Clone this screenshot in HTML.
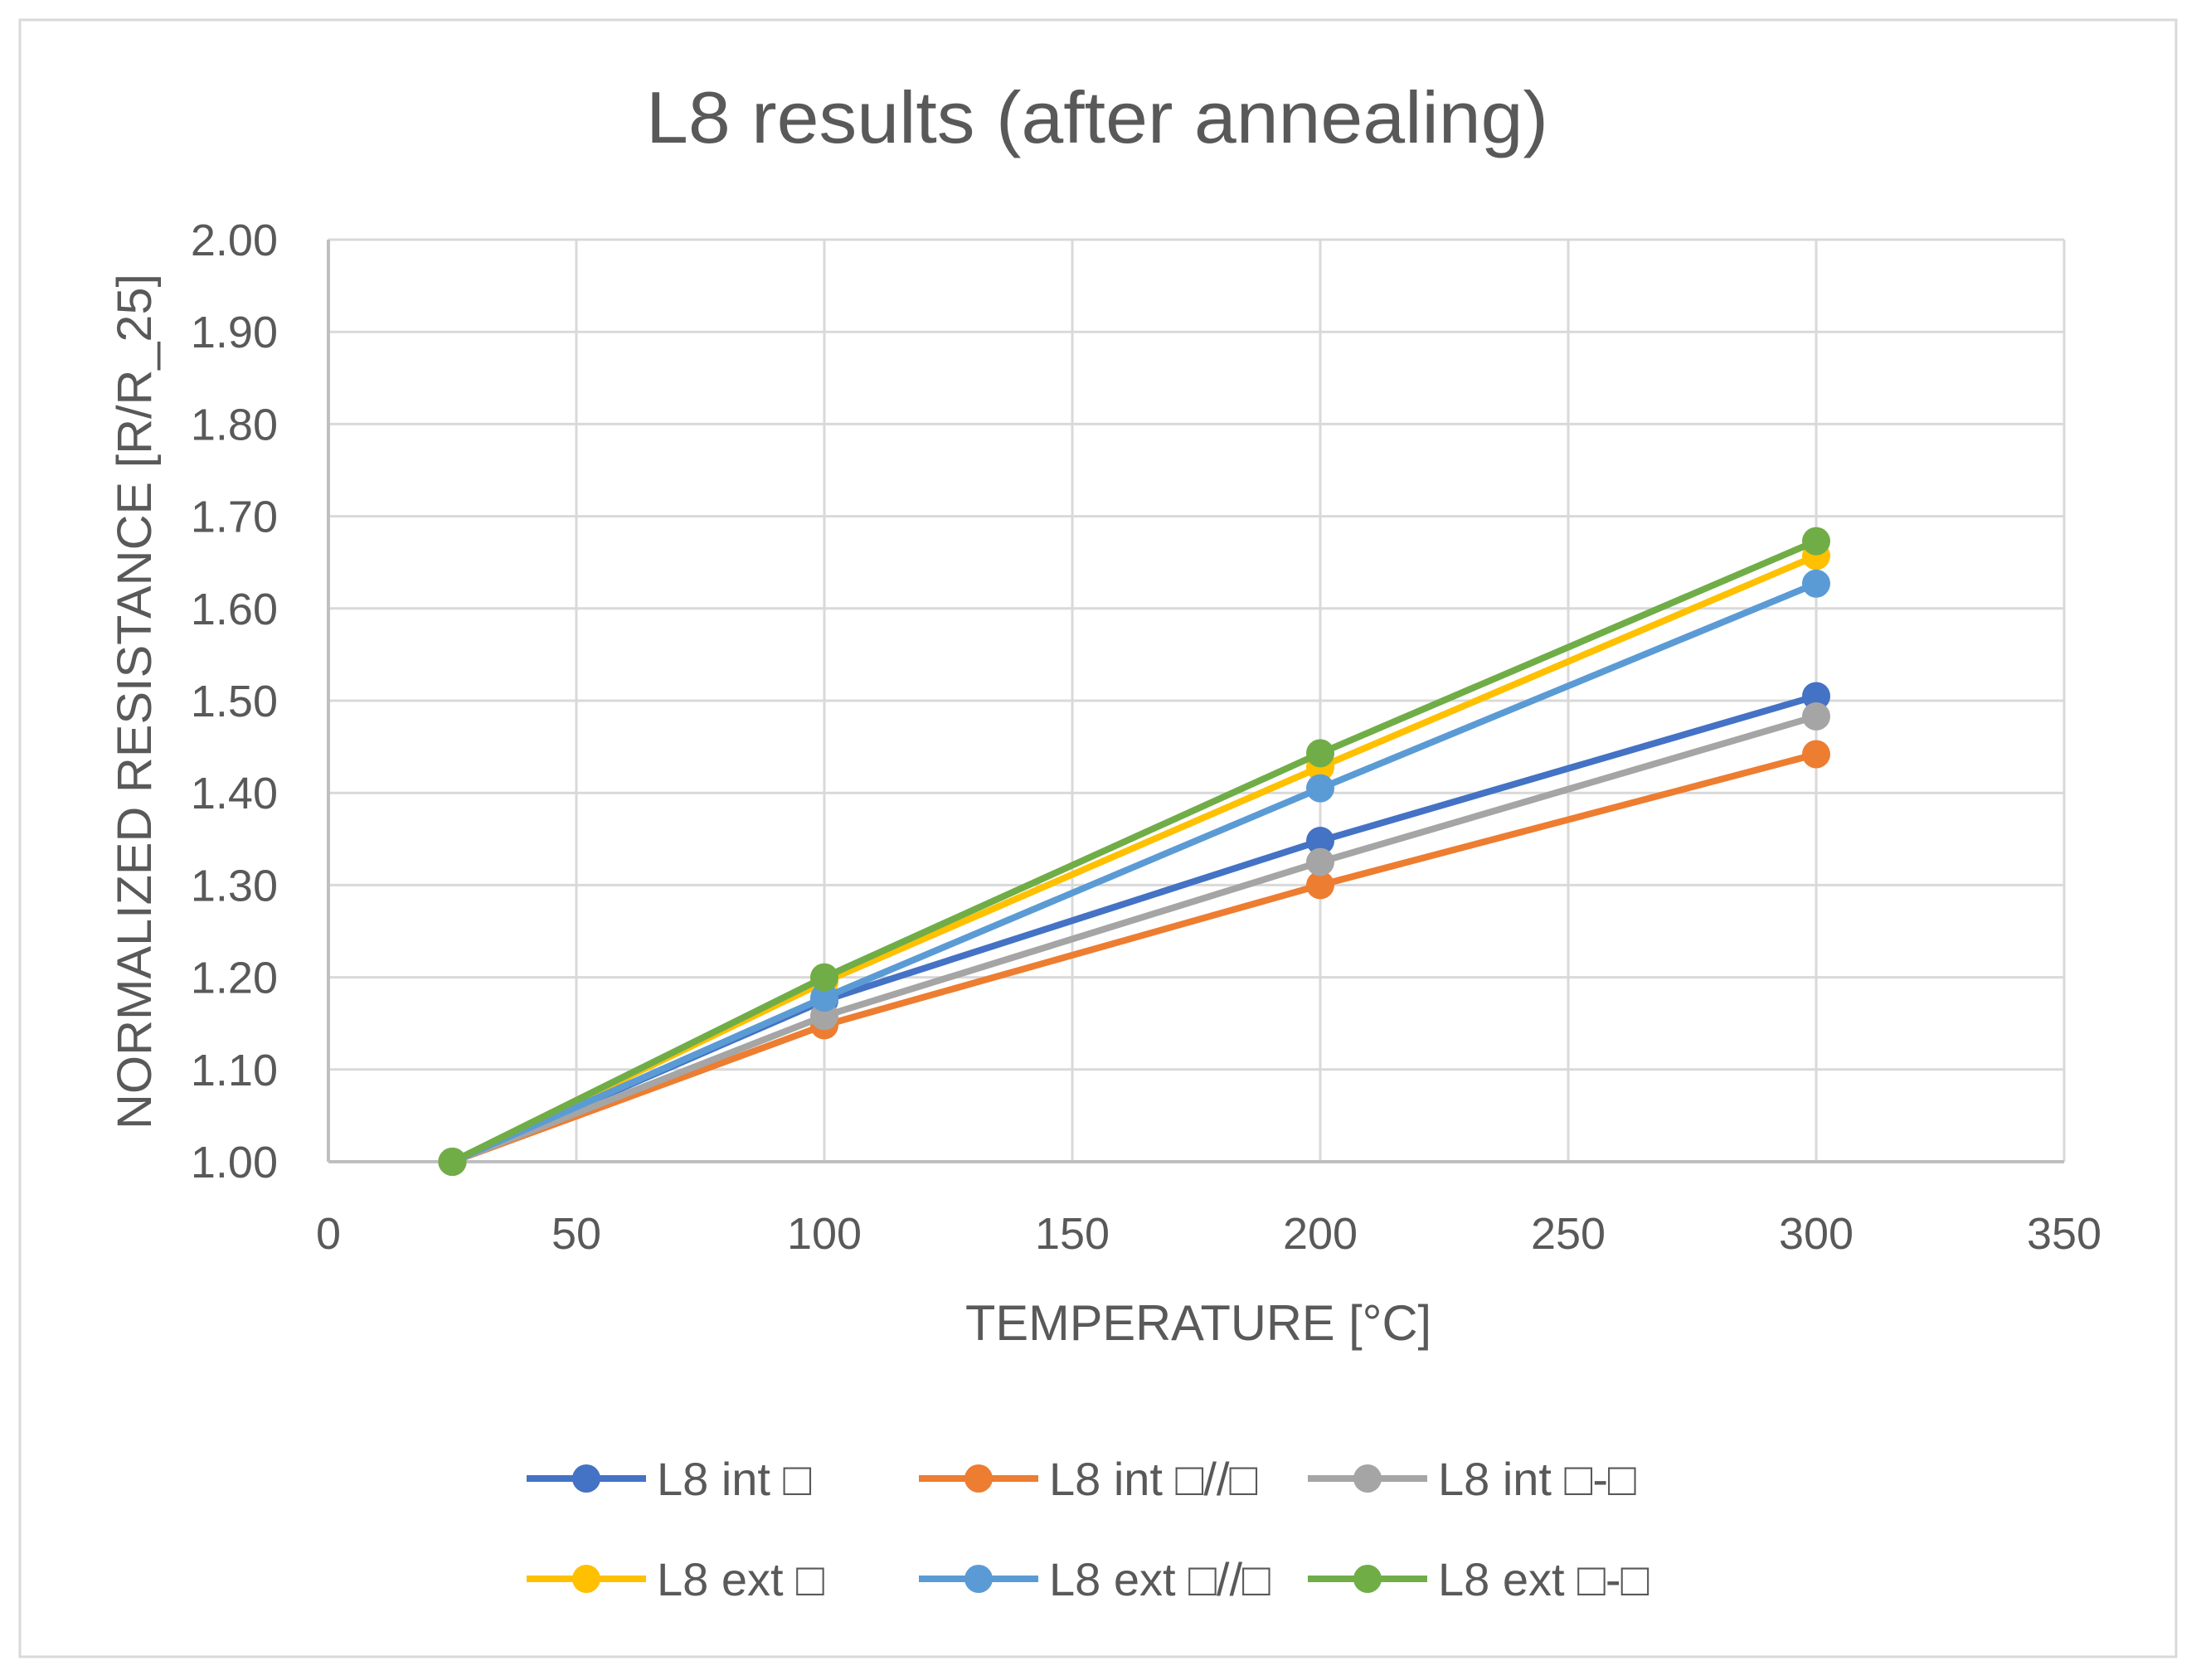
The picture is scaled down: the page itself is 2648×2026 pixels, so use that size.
<!DOCTYPE html>
<html><head><meta charset="utf-8"><style>
html,body{margin:0;padding:0;background:#fff}
svg{display:block;font-family:"Liberation Sans","DejaVu Sans",sans-serif}
</style></head><body>
<svg id="chart" width="2648" height="2026" viewBox="0 0 2648 2026" xmlns="http://www.w3.org/2000/svg">
<rect x="24" y="24" width="2600" height="1974" fill="#fff" stroke="#d9d9d9" stroke-width="3"/>
<text x="1323" y="172" font-size="88" fill="#595959" text-anchor="middle" textLength="1088" lengthAdjust="spacingAndGlyphs">L8 results (after annealing)</text>
<g id="grid"></g><g id="axes"></g><g id="series"></g><g id="legend"></g>
<text transform="translate(182,846) rotate(-90)" font-size="58" fill="#595959" text-anchor="middle" textLength="1032" lengthAdjust="spacingAndGlyphs">NORMALIZED RESISTANCE [R/R_25]</text>
<text x="1445" y="1616" font-size="60" fill="#595959" text-anchor="middle" textLength="562" lengthAdjust="spacingAndGlyphs">TEMPERATURE [°C]</text>
</svg>
<script>
const temps = [25, 100, 200, 300];
const seriesNames = ["L8 int □", "L8 int □//□", "L8 int □-□", "L8 ext □", "L8 ext □//□", "L8 ext □-□"];
const intSquare = [1.00, 1.175, 1.348, 1.505];
const intParallel = [1.00, 1.148, 1.300, 1.442];
const intPerp = [1.00, 1.158, 1.325, 1.483];
const extSquare = [1.00, 1.195, 1.428, 1.657];
const extParallel = [1.00, 1.178, 1.405, 1.627];
const extPerp = [1.00, 1.200, 1.443, 1.673];
const xTicks = [0, 50, 100, 150, 200, 250, 300, 350];
const yTicks = [1.00, 1.10, 1.20, 1.30, 1.40, 1.50, 1.60, 1.70, 1.80, 1.90, 2.00];
const colors = ["#4472c4", "#ed7d31", "#a5a5a5", "#ffc000", "#5b9bd5", "#70ad47"];
const allSeries = [intSquare, intParallel, intPerp, extSquare, extParallel, extPerp];

const L = 396, R = 2489, T = 289, B = 1401;
const xs = v => L + (v - 0) / 350 * (R - L);
const ys = v => B - (v - 1) / 1 * (B - T);
const NS = "http://www.w3.org/2000/svg";
function mk(tag, attrs, parent, txt) {
  const e = document.createElementNS(NS, tag);
  for (const k in attrs) e.setAttribute(k, attrs[k]);
  if (txt !== undefined) e.textContent = txt;
  parent.appendChild(e); return e;
}
const grid = document.getElementById("grid"), axes = document.getElementById("axes");
yTicks.forEach(t => {
  const y = ys(t);
  const l = mk("line", {x1: L, x2: R, y1: y, y2: y, stroke: "#d9d9d9", "stroke-width": 3}, grid);
  
  
  const tx = mk("text", {x: 335, y: y + 19, "font-size": 54, fill: "#595959", "text-anchor": "end"}, axes, t.toFixed(2));
  
  
});
xTicks.forEach(t => {
  const x = xs(t);
  const l = mk("line", {x1: x, x2: x, y1: T, y2: B, stroke: "#d9d9d9", "stroke-width": 3}, grid);
  
  
  const tx = mk("text", {x: x, y: 1506, "font-size": 54, fill: "#595959", "text-anchor": "middle"}, axes, String(t));
  
  
});
const ax1 = mk("line", {x1: L, x2: R, y1: B, y2: B, stroke: "#bfbfbf", "stroke-width": 4}, axes);


const ax2 = mk("line", {x1: L, x2: L, y1: T, y2: B, stroke: "#bfbfbf", "stroke-width": 4}, axes);



const sg = document.getElementById("series");
allSeries.forEach((vals, i) => {
  const g = mk("g", {}, sg);
  
  
  const pts = vals.map((v, j) => xs(temps[j]) + "," + ys(v)).join(" ");
  const pl = mk("polyline", {points: pts, fill: "none", stroke: colors[i], "stroke-width": 8, "stroke-linejoin": "round"}, g);
  
  
  vals.forEach((v, j) => {
    const c = mk("circle", {cx: xs(temps[j]), cy: ys(v), r: 17, fill: colors[i]}, g);
    
    
  });
});

const lg = document.getElementById("legend");
const colX = [635, 1108, 1577], rowY = [1783, 1904];
seriesNames.forEach((n, i) => {
  const x = colX[i % 3], y = rowY[Math.floor(i / 3)];
  const g = mk("g", {}, lg);
  
  
  mk("line", {x1: x, x2: x + 144, y1: y, y2: y, stroke: colors[i], "stroke-width": 8}, g);
  mk("circle", {cx: x + 72, cy: y, r: 17, fill: colors[i]}, g);
  mk("text", {x: x + 157, y: y + 20, "font-size": 56, fill: "#595959"}, g, n);
});
</script>
</body></html>
